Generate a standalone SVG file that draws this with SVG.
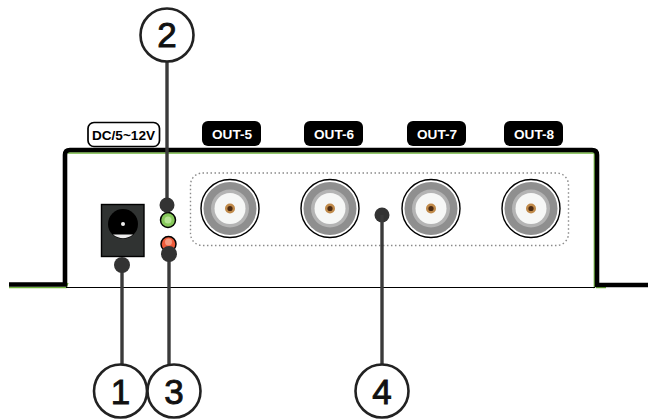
<svg xmlns="http://www.w3.org/2000/svg" width="648" height="419" viewBox="0 0 648 419">
<style>
.lbl{font-family:"Liberation Sans",Arial,sans-serif;font-weight:700;font-size:13.6px;text-anchor:middle}
.num{font-family:"Liberation Sans",Arial,sans-serif;font-size:35px;text-anchor:middle;fill:#111;stroke:#111;stroke-width:.9}
.call{fill:#fff;stroke:#222;stroke-width:2.6}
.lead{stroke:#3a3a3a;stroke-width:3.4;fill:none}
.dot{fill:#333}
.tag{fill:#000}
</style>
<defs>
<g id="bnc">
<circle r="29" fill="#fff" stroke="#000" stroke-width="1.4"/>
<circle r="26.500" fill="#8f8f8f"/>
<circle r="19" fill="#b4b4b4"/>
<circle r="15.500" fill="#f6f7f6"/>
<circle r="5" fill="#c08a4a"/>
<circle r="2.600" fill="#4a2a12"/>
</g>
</defs>
<rect width="648" height="419" fill="#fff"/>
<g id="chassis">
<path d="M9 287.500H66L68 283M68 153H594.300V287L598 283M596 287.500H606" fill="none" stroke="#6fb43a" stroke-width="1.300"/>
<path d="M9 284.500H65V155Q65 150 70 150H592Q597 150 597 155V285H648" fill="none" stroke="#000" stroke-width="4.600"/>
<line x1="66" y1="287.500" x2="595" y2="287.500" stroke="#000" stroke-width="1.200"/>
</g>
<rect id="port-group" x="190.500" y="173" width="378" height="72.500" rx="12" fill="none" stroke="#8a8a8a" stroke-width="1.400" stroke-dasharray="1.500 2.500"/>
<g id="dc-jack">
<rect x="101.500" y="204.500" width="42.500" height="52" fill="#303332" stroke="#000" stroke-width="1.400"/>
<circle cx="123" cy="224" r="15" fill="#000"/>
<path d="M113 234.500H133Q123 242 113 234.500Z" fill="#ececec"/>
<circle cx="123" cy="224" r="2" fill="#eee"/>
</g>
<g id="led-green"><circle cx="168" cy="220" r="7.500" fill="#86c85a" stroke="#000" stroke-width="1.500"/><circle cx="168" cy="220" r="3.500" fill="#b6e394"/></g>
<g id="led-red"><circle cx="168.500" cy="244" r="7.500" fill="#ee5b3b" stroke="#000" stroke-width="1.500"/><circle cx="168.500" cy="242" r="3.500" fill="#f59a80"/></g>
<g id="bnc-5"><use href="#bnc" x="230" y="208.500"/></g>
<g id="bnc-6"><use href="#bnc" x="330" y="208.500"/></g>
<g id="bnc-7"><use href="#bnc" x="431" y="208.500"/></g>
<g id="bnc-8"><use href="#bnc" x="531" y="208.500"/></g>
<g id="connectors">
<line class="lead" x1="167" y1="61" x2="167" y2="205"/><circle class="dot" cx="167" cy="205" r="7.500"/>
<line class="lead" x1="122" y1="265" x2="122" y2="365"/><circle class="dot" cx="122" cy="265" r="8"/>
<line class="lead" x1="169" y1="254" x2="169" y2="365"/><circle class="dot" cx="169" cy="254" r="8"/>
<circle class="dot" cx="382" cy="215" r="7.500"/><line class="lead" x1="382" y1="215" x2="382" y2="364"/>
</g>
<g id="label-dc"><rect x="88" y="122.500" width="71.500" height="24" rx="6" fill="#fff" stroke="#000" stroke-width="1.700"/><text class="lbl" x="123.500" y="139.500">DC/5~12V</text></g>
<g id="label-out5"><rect class="tag" x="202" y="121" width="59" height="25" rx="6"/><text class="lbl" x="232" y="138.500" fill="#fff">OUT-5</text></g>
<g id="label-out6"><rect class="tag" x="304" y="121" width="59" height="25" rx="6"/><text class="lbl" x="334" y="138.500" fill="#fff">OUT-6</text></g>
<g id="label-out7"><rect class="tag" x="407" y="121" width="59" height="25" rx="6"/><text class="lbl" x="437" y="138.500" fill="#fff">OUT-7</text></g>
<g id="label-out8"><rect class="tag" x="504" y="121" width="59" height="25" rx="6"/><text class="lbl" x="534" y="138.500" fill="#fff">OUT-8</text></g>
<g id="callout-2"><circle class="call" cx="167" cy="35" r="26.500"/><text class="num" x="167" y="47">2</text></g>
<g id="callout-1"><circle class="call" cx="120.500" cy="391" r="26.500"/><text class="num" x="120.500" y="404">1</text></g>
<g id="callout-3"><circle class="call" cx="174" cy="391" r="26.500"/><text class="num" x="174" y="404">3</text></g>
<g id="callout-4"><circle class="call" cx="382" cy="391" r="26.500"/><text class="num" x="382" y="404">4</text></g>
</svg>
